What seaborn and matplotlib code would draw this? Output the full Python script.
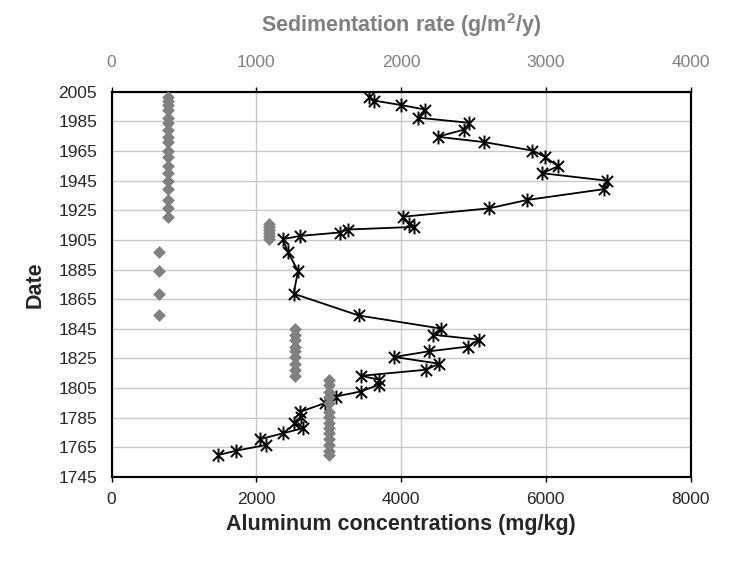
import matplotlib
matplotlib.use("Agg")
import matplotlib.pyplot as plt
import seaborn as sns
import pandas as pd
from matplotlib.path import Path

# ---- data ----
al_years = [2001.7, 1999.0, 1996.0, 1993.0, 1987.5, 1984.0, 1979.5, 1974.6, 1971.0,
            1965.3, 1961.0, 1954.7, 1950.0, 1945.0, 1939.3, 1932.0, 1926.3, 1920.6,
            1916.0, 1913.8, 1912.0, 1910.0, 1907.7, 1905.5, 1897.0, 1884.0, 1868.7,
            1854.0, 1845.2, 1841.0, 1837.7, 1833.0, 1829.8, 1826.0, 1821.5, 1817.4,
            1813.3, 1810.6, 1807.3, 1802.7, 1799.3, 1795.0, 1789.0, 1785.8, 1781.7,
            1778.0, 1774.5, 1770.4, 1766.6, 1762.7, 1759.8]
al_conc = [3550, 3630, 4000, 4330, 4230, 4945, 4875, 4505, 5150,
           5815, 5990, 6170, 5950, 6840, 6810, 5745, 5215, 4020,
           4105, 4185, 3265, 3150, 2605, 2365, 2435, 2575, 2515,
           3415, 4550, 4445, 5070, 4925, 4380, 3905, 4525, 4345,
           3450, 3700, 3700, 3440, 3095, 2955, 2605, 2620, 2515,
           2650, 2365, 2045, 2130, 1715, 1470]

sed_years = al_years
sed_rate = [390] * 18 + [1090] * 6 + [325] * 4 + [1270] * 9 + [1500] * 14
sed_rate = sed_rate[:len(sed_years)]

date_ticks = [1745, 1765, 1785, 1805, 1825, 1845, 1865, 1885, 1905, 1925, 1945, 1965, 1985, 2005]
conc_ticks = [0, 2000, 4000, 6000, 8000]
rate_ticks = [0, 1000, 2000, 3000, 4000]

df_al = pd.DataFrame({"year": al_years, "conc": al_conc})
df_sed = pd.DataFrame({"year": sed_years, "rate": sed_rate})

# ---- style ----
sns.set_style("white")
plt.rcParams["font.family"] = ["Liberation Sans", "DejaVu Sans"]
plt.rcParams["mathtext.fontset"] = "custom"
plt.rcParams["mathtext.rm"] = "Liberation Sans"
plt.rcParams["mathtext.bf"] = "Liberation Sans:bold"
GREY = "#808080"

fig = plt.figure(figsize=(7.29, 5.61), dpi=100)
ax = fig.add_axes([0.1532, 0.1497, 0.794, 0.6868])

star = Path([(-1, -1), (1, 1), (-1, 1), (1, -1), (0, -1.25), (0, 1.25)],
            [Path.MOVETO, Path.LINETO, Path.MOVETO, Path.LINETO, Path.MOVETO, Path.LINETO])

sns.lineplot(data=df_al, x="conc", y="year", sort=False, estimator=None,
             color="black", lw=1.3, marker=star, markersize=10,
             markeredgewidth=1.4, markeredgecolor="black", ax=ax, zorder=3)

ax.set_xlim(0, 8000)
ax.set_ylim(1745, 2005)
ax.set_xticks(conc_ticks)
ax.set_yticks(date_ticks)
ax.grid(True, color="#c8c8c8", lw=1)
ax.set_axisbelow(True)
ax.tick_params(axis="both", direction="out", length=3.5, width=1, color="black",
               labelsize=12.5, pad=7)
ax.set_xlabel("Aluminum concentrations (mg/kg)", fontweight="bold", fontsize=15.5, labelpad=5)
ax.set_ylabel("Date", fontweight="bold", fontsize=15.5, labelpad=9)

ax2 = ax.twiny()
sns.scatterplot(data=df_sed, x="rate", y="year", marker="D", s=36, color=GREY,
                edgecolor=GREY, linewidth=0.5, ax=ax2, zorder=4)
ax2.set_xlim(0, 4000)
ax2.set_xticks(rate_ticks)
ax2.set_ylim(1745, 2005)
ax2.tick_params(axis="x", direction="out", length=3.5, width=1, color="black",
                labelsize=12.5, labelcolor=GREY, pad=12.5)
ax2.set_xlabel(r"Sedimentation rate (g/m$^{\mathbf{2}}$/y)", color=GREY, fontweight="bold",
               fontsize=15.5, labelpad=16)

for a in (ax, ax2):
    for s in a.spines.values():
        s.set_color("black")
        s.set_linewidth(1.5)
        s.set_visible(True)

fig.savefig("out.png", dpi=100)
